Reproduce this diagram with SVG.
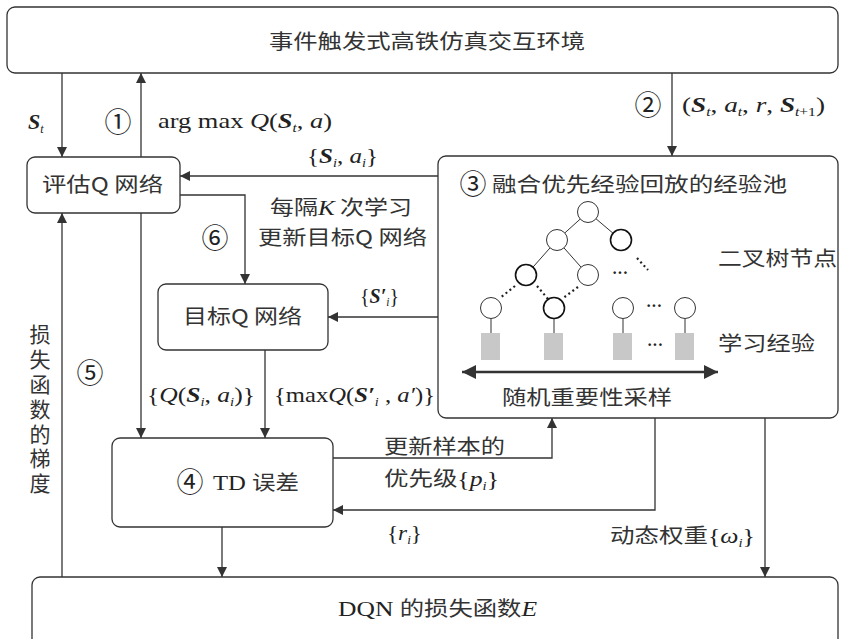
<svg xmlns="http://www.w3.org/2000/svg" width="842" height="639" viewBox="0 0 842 639">
<defs>
<marker id="ah" viewBox="0 0 10 10" refX="10" refY="5" markerWidth="10" markerHeight="10" markerUnits="userSpaceOnUse" orient="auto">
<path d="M0,0 L10,5 L0,10 z" fill="#333"/>
</marker>
<marker id="ahb" viewBox="0 0 10 10" refX="10" refY="5" markerWidth="14" markerHeight="14" markerUnits="userSpaceOnUse" orient="auto-start-reverse">
<path d="M0,0 L10,5 L0,10 z" fill="#333"/>
</marker>
<style>
.box{fill:#fff;stroke:#333;stroke-width:1.3}
.ln{fill:none;stroke:#333;stroke-width:1.3}
.cn{font-family:"Noto Sans CJK SC","Noto Sans",sans-serif;font-size:20px;fill:#333}
.m{font-family:"Liberation Serif",serif;font-size:21px;fill:#222}
.b{font-weight:bold;font-style:italic}
.i{font-style:italic}
.sub{font-size:12px}
.num{font-family:"Noto Sans CJK SC","DejaVu Sans",sans-serif;font-size:27px;fill:#222}
.node{fill:#fff;stroke:#333;stroke-width:1}
.nodeb{fill:#fff;stroke:#111;stroke-width:1.6}
.leaf{fill:#c8c8c8}
.dot{fill:none;stroke:#222;stroke-width:2.2;stroke-dasharray:2 3}
</style>
</defs>

<g id="env">
<rect class="box" x="7" y="7" width="831" height="66" rx="8"/>
<text class="cn" x="269" y="49" textLength="316" lengthAdjust="spacingAndGlyphs">事件触发式高铁仿真交互环境</text>
</g>

<g id="evalq">
<rect class="box" x="27" y="157" width="153" height="56" rx="8"/>
<text class="cn" x="42" y="192" textLength="121" lengthAdjust="spacingAndGlyphs">评估Q 网络</text>
</g>

<g id="targetq">
<rect class="box" x="158" y="284" width="170" height="66" rx="8"/>
<text class="cn" x="183" y="324" textLength="119" lengthAdjust="spacingAndGlyphs">目标Q 网络</text>
</g>

<g id="td">
<rect class="box" x="112" y="438" width="221" height="89" rx="8"/>
<text class="num" x="190" y="492" text-anchor="middle">④</text>
<text class="m" x="213" y="490" textLength="86" lengthAdjust="spacingAndGlyphs">TD <tspan class="cn">误差</tspan></text>
</g>

<g id="dqn">
<rect class="box" x="32" y="577" width="806" height="70" rx="8"/>
<text class="m" x="338" y="616" textLength="199" lengthAdjust="spacingAndGlyphs">DQN <tspan class="cn">的损失函数</tspan><tspan class="i">E</tspan></text>
</g>

<g id="pool">
<rect class="box" x="438" y="156" width="400" height="262" rx="8"/>
<text class="num" x="473" y="194" text-anchor="middle">③</text>
<text class="cn" x="492" y="192" textLength="295" lengthAdjust="spacingAndGlyphs">融合优先经验回放的经验池</text>
<g id="tree">
<line class="ln" x1="588" y1="212" x2="557" y2="240" style="stroke-width:1"/>
<line class="ln" x1="588" y1="212" x2="621" y2="240" style="stroke-width:1"/>
<line class="ln" x1="557" y1="240" x2="526" y2="275" style="stroke-width:1"/>
<line class="ln" x1="557" y1="240" x2="588" y2="275" style="stroke-width:1"/>
<line class="dot" x1="637" y1="258" x2="648" y2="270"/>
<line class="dot" x1="515" y1="286" x2="500" y2="298"/>
<line class="dot" x1="537" y1="286" x2="548" y2="299"/>
<line class="dot" x1="578" y1="287" x2="562" y2="299"/>
<circle class="node" cx="588" cy="212" r="10.5"/>
<circle class="node" cx="557" cy="240" r="10.5"/>
<circle class="nodeb" cx="621" cy="240" r="10.5"/>
<circle class="nodeb" cx="526" cy="275" r="10.5"/>
<circle class="node" cx="588" cy="275" r="10.5"/>
<text class="m" x="620" y="278" text-anchor="middle" style="font-size:16px;font-weight:bold">···</text>
<line class="ln" x1="491" y1="319" x2="491" y2="333" style="stroke-width:1"/>
<line class="ln" x1="554" y1="319" x2="554" y2="333" style="stroke-width:1"/>
<line class="ln" x1="623" y1="319" x2="623" y2="333" style="stroke-width:1"/>
<line class="ln" x1="685" y1="319" x2="685" y2="333" style="stroke-width:1"/>
<circle class="node" cx="491" cy="308" r="10.5"/>
<circle class="nodeb" cx="554" cy="308" r="10.5"/>
<circle class="node" cx="623" cy="308" r="10.5"/>
<text class="m" x="654" y="311" text-anchor="middle" style="font-size:16px;font-weight:bold">···</text>
<circle class="node" cx="685" cy="308" r="10.5"/>
<rect class="leaf" x="481" y="333" width="19" height="27"/>
<rect class="leaf" x="544" y="333" width="19" height="27"/>
<rect class="leaf" x="613" y="333" width="19" height="27"/>
<text class="m" x="655" y="350" text-anchor="middle" style="font-size:16px;font-weight:bold">···</text>
<rect class="leaf" x="675" y="333" width="19" height="27"/>
<line x1="462" y1="372" x2="718" y2="372" stroke="#333" stroke-width="2.5" marker-start="url(#ahb)" marker-end="url(#ahb)"/>
</g>
<text class="cn" x="718" y="266" textLength="119" lengthAdjust="spacingAndGlyphs">二叉树节点</text>
<text class="cn" x="718" y="351" textLength="97" lengthAdjust="spacingAndGlyphs">学习经验</text>
<text class="cn" x="502" y="405" textLength="170" lengthAdjust="spacingAndGlyphs">随机重要性采样</text>
</g>

<g id="connectors">
<line class="ln" x1="62" y1="73" x2="62" y2="157" marker-end="url(#ah)"/>
<line class="ln" x1="141" y1="157" x2="141" y2="73" marker-end="url(#ah)"/>
<line class="ln" x1="672" y1="73" x2="672" y2="156" marker-end="url(#ah)"/>
<line class="ln" x1="438" y1="176" x2="180" y2="176" marker-end="url(#ah)"/>
<polyline class="ln" points="180,195 245,195 245,284" marker-end="url(#ah)"/>
<line class="ln" x1="438" y1="317" x2="328" y2="317" marker-end="url(#ah)"/>
<line class="ln" x1="141" y1="213" x2="141" y2="438" marker-end="url(#ah)"/>
<line class="ln" x1="265" y1="350" x2="265" y2="438" marker-end="url(#ah)"/>
<polyline class="ln" points="333,458 552,458 552,418" marker-end="url(#ah)"/>
<polyline class="ln" points="655,418 655,510 333,510" marker-end="url(#ah)"/>
<line class="ln" x1="765" y1="418" x2="765" y2="577" marker-end="url(#ah)"/>
<line class="ln" x1="222" y1="527" x2="222" y2="577" marker-end="url(#ah)"/>
<line class="ln" x1="62" y1="577" x2="62" y2="213" marker-end="url(#ah)"/>
</g>

<g id="labels">
<text class="m" x="28" y="129" style="font-size:22px"><tspan class="b">S</tspan><tspan class="sub i" dy="4">t</tspan></text>
<text class="num" x="118" y="132" text-anchor="middle">①</text>
<text class="m" x="158" y="128" textLength="174" lengthAdjust="spacingAndGlyphs">arg max <tspan class="i">Q</tspan>(<tspan class="b">S</tspan><tspan class="sub i" dy="4">t</tspan><tspan dy="-4">, </tspan><tspan class="i">a</tspan>)</text>
<text class="num" x="648" y="115" text-anchor="middle">②</text>
<text class="m" x="682" y="112" textLength="143" lengthAdjust="spacingAndGlyphs">(<tspan class="b">S</tspan><tspan class="sub i" dy="4">t</tspan><tspan dy="-4">, </tspan><tspan class="i">a</tspan><tspan class="sub i" dy="4">t</tspan><tspan dy="-4">, </tspan><tspan class="i">r</tspan>, <tspan class="b">S</tspan><tspan class="sub i" dy="4">t</tspan><tspan class="sub">+1</tspan><tspan dy="-4">)</tspan></text>
<text class="m" x="307" y="163" textLength="71" lengthAdjust="spacingAndGlyphs">{<tspan class="b">S</tspan><tspan class="sub i" dy="4">i</tspan><tspan dy="-4">, </tspan><tspan class="i">a</tspan><tspan class="sub i" dy="4">i</tspan><tspan dy="-4">}</tspan></text>
<text class="num" x="215" y="248" text-anchor="middle">⑥</text>
<text class="cn" x="270" y="215" textLength="142" lengthAdjust="spacingAndGlyphs">每隔<tspan class="m i">K</tspan> 次学习</text>
<text class="cn" x="258" y="245" textLength="169" lengthAdjust="spacingAndGlyphs">更新目标Q 网络</text>
<text class="m" x="360" y="303" textLength="39" lengthAdjust="spacingAndGlyphs">{<tspan class="b">S′</tspan><tspan class="sub i" dy="3">i</tspan><tspan dy="-3">}</tspan></text>
<text class="m" x="147" y="402" textLength="108" lengthAdjust="spacingAndGlyphs">{<tspan class="i">Q</tspan>(<tspan class="b">S</tspan><tspan class="sub i" dy="4">i</tspan><tspan dy="-4">, </tspan><tspan class="i">a</tspan><tspan class="sub i" dy="4">i</tspan><tspan dy="-4">)}</tspan></text>
<text class="m" x="274" y="402" textLength="161" lengthAdjust="spacingAndGlyphs">{max<tspan class="i">Q</tspan>(<tspan class="b">S′</tspan><tspan class="sub i" dy="4">i</tspan><tspan dy="-4"> , </tspan><tspan class="i">a′</tspan>)}</text>
<text class="cn" x="384" y="454" textLength="121" lengthAdjust="spacingAndGlyphs">更新样本的</text>
<text class="cn" x="384" y="486" textLength="115" lengthAdjust="spacingAndGlyphs">优先级<tspan class="m">{<tspan class="i">p</tspan><tspan class="sub i" dy="4">i</tspan><tspan dy="-4">}</tspan></tspan></text>
<text class="m" x="387" y="540" textLength="35" lengthAdjust="spacingAndGlyphs">{<tspan class="i">r</tspan><tspan class="sub i" dy="4">i</tspan><tspan dy="-4">}</tspan></text>
<text class="cn" x="610" y="543" textLength="145" lengthAdjust="spacingAndGlyphs">动态权重<tspan class="m">{<tspan class="i">ω</tspan><tspan class="sub i" dy="4">i</tspan><tspan dy="-4">}</tspan></tspan></text>
<text class="num" x="90" y="383" text-anchor="middle">⑤</text>
<text class="cn" x="40" y="324" style="writing-mode:vertical-rl;font-size:21px;letter-spacing:3.8px">损失函数的梯度</text>
</g>
</svg>
